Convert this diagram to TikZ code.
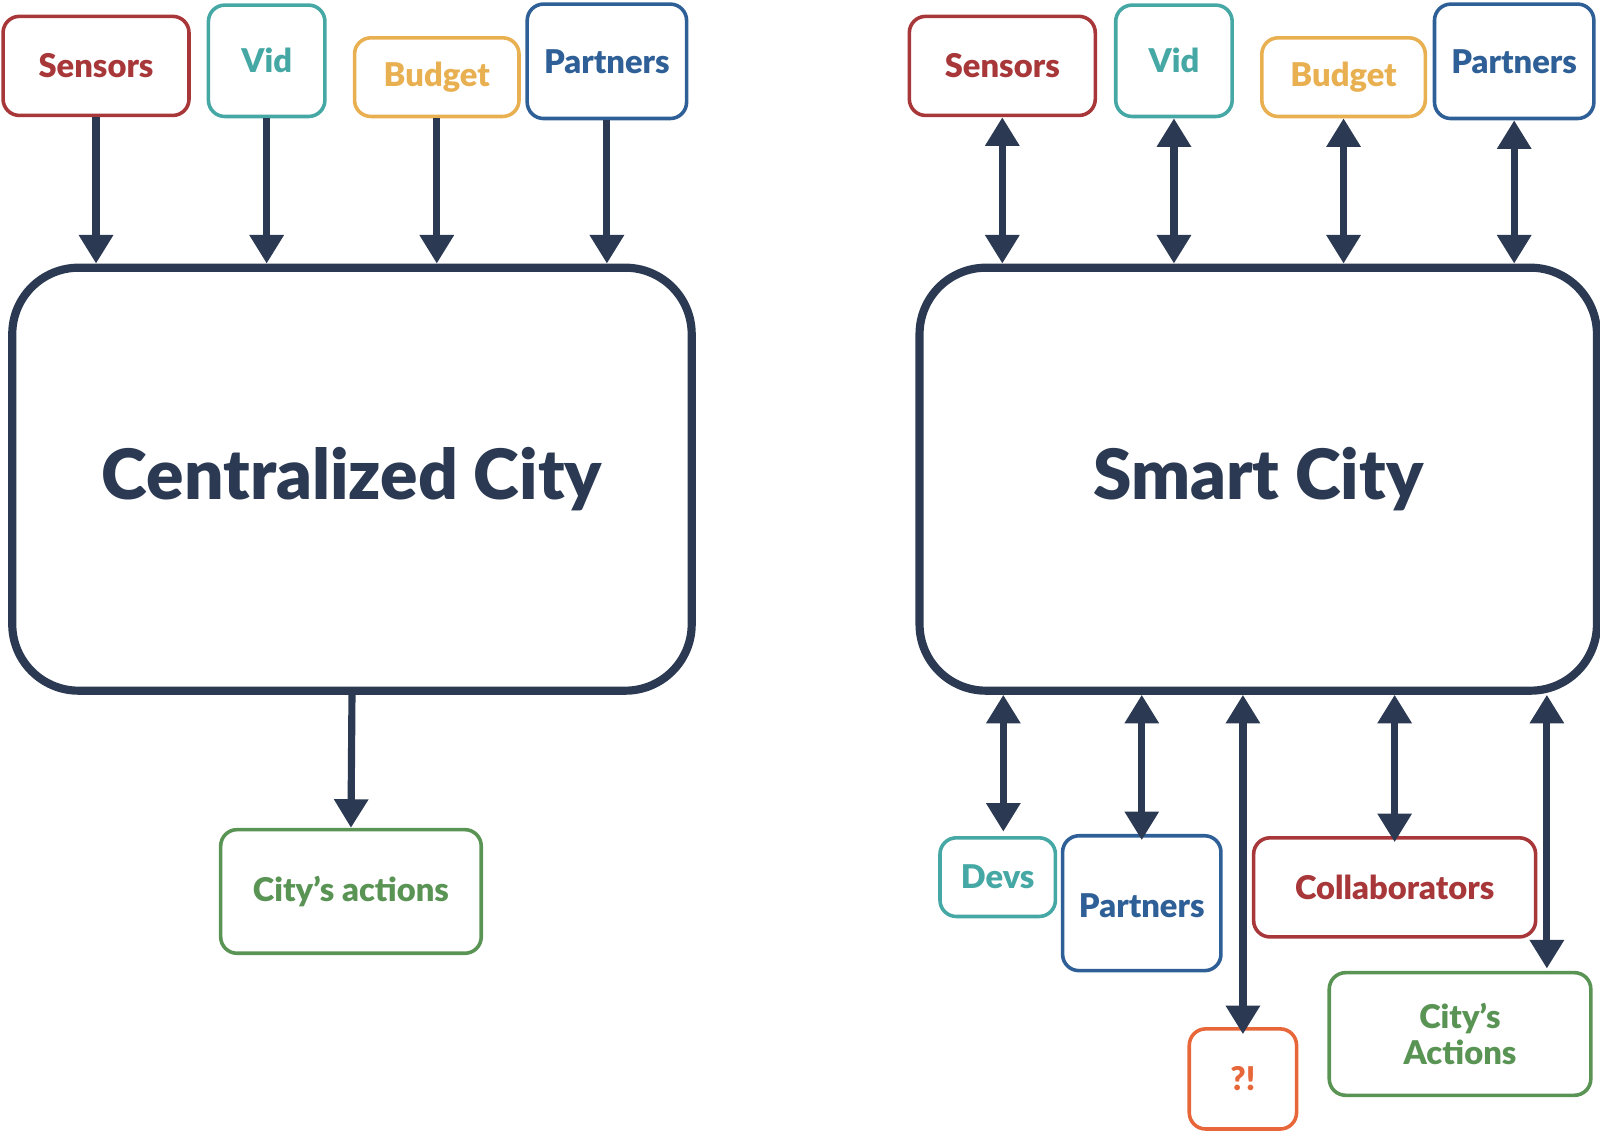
\documentclass[tikz,border=0pt]{standalone}
\usepackage{fontspec}
\setmainfont{Lato}[BoldFont={Lato Black}]
\usetikzlibrary{arrows.meta}
\definecolor{cred}{HTML}{A8373A}
\definecolor{cteal}{HTML}{45A8A4}
\definecolor{cyel}{HTML}{E8B050}
\definecolor{cblue}{HTML}{2E5F96}
\definecolor{cgreen}{HTML}{5A9455}
\definecolor{corange}{HTML}{E8673A}
\definecolor{cdark}{HTML}{2B3A52}
\tikzset{
 sbox/.style={draw=#1,text=#1,line width=3.5pt,rounded corners=16pt,inner sep=0pt,font=\fontsize{32}{36}\selectfont\bfseries,align=center},
 big/.style={draw=cdark,text=cdark,line width=8pt,rounded corners=65pt,font=\fontsize{68}{74}\selectfont\bfseries},
 arr/.style={draw=cdark,line width=7pt,-{Triangle[width=32pt,length=28pt]}},
 darr/.style={draw=cdark,line width=7pt,{Triangle[width=32pt,length=28pt]}-{Triangle[width=32pt,length=28pt]}},
}
\begin{document}
\begin{tikzpicture}[x=1pt,y=-1pt]
% left
\node[sbox=cred,minimum width=182pt,minimum height=97pt] (ls) at (94,64.5) {Sensors};
\node[sbox=cteal,minimum width=114pt,minimum height=109pt] (lv) at (261,59.5) {Vid};
\node[sbox=cyel,minimum width=161pt,minimum height=77pt] (lb) at (427.5,75.5) {Budget};
\node[sbox=cblue,minimum width=156pt,minimum height=112pt] (lp) at (594,60) {Partners};
\node[big,minimum width=665pt,minimum height=414pt] (lc) at (344.5,469) {Centralized City};
\node[sbox=cgreen,minimum width=255pt,minimum height=121pt] (la) at (343.5,872.5) {City’s actions};
\foreach \n in {ls,lv,lb,lp} \draw[arr] (\n.south) -- (\n.south |- lc.north);
\draw[arr] (lc.south) -- (la.north);
% right
\node[sbox=cred,minimum width=182pt,minimum height=97pt] (rs) at (981,64.5) {Sensors};
\node[sbox=cteal,minimum width=114pt,minimum height=109pt] (rv) at (1149,59.5) {Vid};
\node[sbox=cyel,minimum width=160pt,minimum height=77pt] (rb) at (1315,75.5) {Budget};
\node[sbox=cblue,minimum width=156pt,minimum height=112pt] (rp) at (1482,60) {Partners};
\node[big,minimum width=663pt,minimum height=414pt] (rc) at (1231.5,469) {Smart City};
\foreach \n in {rs,rv,rb,rp} \draw[darr] (\n.south) -- (\n.south |- rc.north);
\node[sbox=cteal,minimum width=113pt,minimum height=77pt] (dv) at (976.5,858.5) {Devs};
\node[sbox=cblue,minimum width=155pt,minimum height=132pt] (bp) at (1117.5,884) {};
\node[text=cblue,font=\fontsize{32}{36}\selectfont\bfseries] (bpt) at (1117.5,886) {Partners};
\node[sbox=cred,minimum width=276pt,minimum height=97pt] (co) at (1365,868.5) {Collaborators};
\node[sbox=corange,minimum width=105pt,minimum height=98pt] (qx) at (1216.5,1056) {?!};
\node[sbox=cgreen,minimum width=256pt,minimum height=120pt] (ca) at (1429,1012) {City’s\\Actions};
\coordinate (dvt) at (982,814);
\coordinate (cat) at (1514,948);
\draw[darr] (rc.south -| dvt) -- (dvt);
\draw[darr] (rc.south -| bp.north) -- ([yshift=-6pt]bp.north);
\draw[darr] (rc.south -| qx.north) -- ([yshift=-7pt]qx.north);
\draw[darr] (rc.south -| co.north) -- ([yshift=-6pt]co.north);
\draw[darr] (rc.south -| cat) -- (cat);
\pgfresetboundingbox
\useasboundingbox (0,0) rectangle (1566,1106);
\end{tikzpicture}
\end{document}
